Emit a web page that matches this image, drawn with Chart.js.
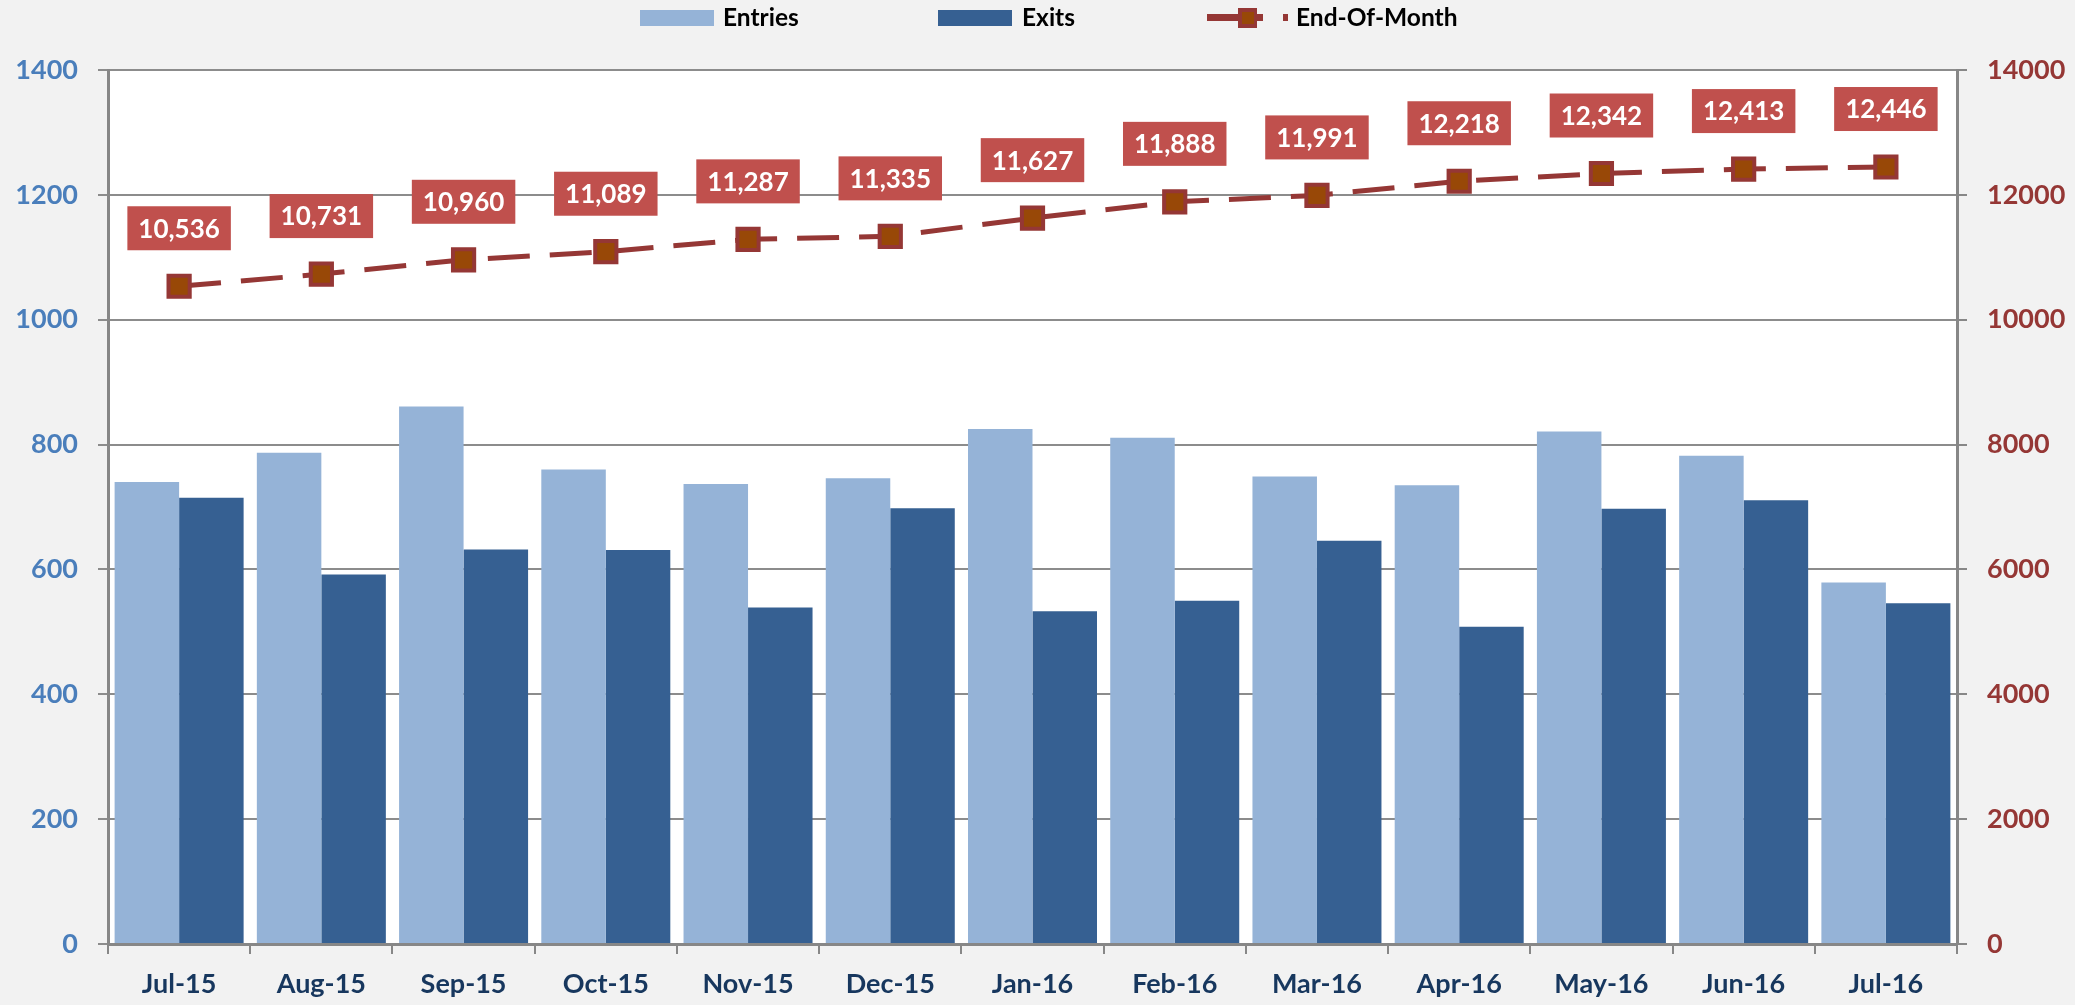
<!DOCTYPE html>
<html><head><meta charset="utf-8">
<script src="https://cdn.jsdelivr.net/npm/chart.js@4.4.1/dist/chart.umd.min.js"></script>
<style>html,body{margin:0;padding:0;background:#f2f2f2;} canvas{display:block;}</style>
</head><body>
<canvas id="c" width="2075" height="1005" style="width:2075px;height:1005px"></canvas>
<script>
const categories = ['Jul-15','Aug-15','Sep-15','Oct-15','Nov-15','Dec-15','Jan-16','Feb-16','Mar-16','Apr-16','May-16','Jun-16','Jul-16'];
const entries = [740, 787, 861, 760, 737, 746, 825, 811, 749, 735, 821, 782, 579];
const exits   = [715, 592, 632, 631, 539, 698, 533, 550, 646, 508, 697, 711, 546];
const endOfMonth = [10536, 10731, 10960, 11089, 11287, 11335, 11627, 11888, 11991, 12218, 12342, 12413, 12446];
const seriesNames = ['Entries', 'Exits', 'End-Of-Month'];

const FONT = 'Lato';
const AXIS_GRAY = '#878787';

const bgPlugin = {
  id: 'bg',
  beforeDraw(chart) {
    const {ctx, chartArea: a} = chart;
    ctx.save();
    ctx.fillStyle = '#f2f2f2';
    ctx.fillRect(0, 0, chart.width, chart.height);
    ctx.fillStyle = '#ffffff';
    ctx.fillRect(a.left, a.top, a.right - a.left, a.bottom - a.top);
    ctx.restore();
  }
};

const legendPlugin = {
  id: 'customLegend',
  afterDraw(chart) {
    const ctx = chart.ctx;
    const ds = chart.data.datasets;
    ctx.save();
    ctx.font = 'bold 24.5px ' + FONT;
    ctx.textBaseline = 'middle';
    ctx.textAlign = 'left';
    const ty = 18;
    // Entries
    ctx.fillStyle = ds[1].backgroundColor;
    ctx.fillRect(640, 10, 74, 16);
    ctx.fillStyle = '#000';
    ctx.fillText(ds[1].label, 723, ty);
    // Exits
    ctx.fillStyle = ds[2].backgroundColor;
    ctx.fillRect(938, 10, 74, 16);
    ctx.fillStyle = '#000';
    ctx.fillText(ds[2].label, 1022, ty);
    // End-Of-Month
    ctx.fillStyle = ds[0].borderColor;
    ctx.fillRect(1207, 14, 56, 7);
    ctx.fillRect(1238, 8, 19, 20);
    ctx.fillStyle = ds[0].pointBackgroundColor;
    ctx.fillRect(1242, 12, 12, 12);
    ctx.fillStyle = ds[0].borderColor;
    ctx.fillRect(1283, 14, 5, 7);
    ctx.fillStyle = '#000';
    ctx.fillText(ds[0].label, 1296, ty);
    ctx.restore();
  }
};

const labelPlugin = {
  id: 'eomLabels',
  afterDatasetsDraw(chart) {
    const ctx = chart.ctx;
    const meta = chart.getDatasetMeta(0);
    const values = chart.data.datasets[0].data;
    ctx.save();
    ctx.font = 'bold 26px ' + FONT;
    ctx.textAlign = 'center';
    ctx.textBaseline = 'middle';
    meta.data.forEach((pt, i) => {
      const txt = values[i].toLocaleString('en-US');
      const w = ctx.measureText(txt).width + 22;
      const h = 44;
      const cx = pt.x, cy = pt.y - 58;
      ctx.fillStyle = '#c0504d';
      ctx.fillRect(cx - w / 2, cy - h / 2, w, h);
      ctx.fillStyle = '#ffffff';
      ctx.fillText(txt, cx, cy + 1);
    });
    ctx.restore();
  }
};

const plainTick = v => String(v);

new Chart(document.getElementById('c'), {
  type: 'bar',
  data: {
    labels: categories,
    datasets: [
      {
        type: 'line',
        label: seriesNames[2],
        data: endOfMonth,
        yAxisID: 'y2',
        order: 0,
        borderColor: '#953735',
        borderWidth: 5,
        borderDash: [42, 20],
        fill: false,
        tension: 0,
        pointStyle: 'rect',
        pointRadius: 15,
        pointBorderWidth: 4,
        pointBackgroundColor: '#984807',
        pointBorderColor: '#953735'
      },
      {
        label: seriesNames[0],
        data: entries,
        yAxisID: 'y',
        order: 1,
        backgroundColor: '#95b3d7',
        categoryPercentage: 0.907,
        barPercentage: 1.0
      },
      {
        label: seriesNames[1],
        data: exits,
        yAxisID: 'y',
        order: 1,
        backgroundColor: '#366092',
        categoryPercentage: 0.907,
        barPercentage: 1.0
      }
    ]
  },
  options: {
    responsive: false,
    animation: false,
    layout: { padding: { top: 70, left: 0, right: 0, bottom: 0 } },
    plugins: {
      legend: { display: false },
      tooltip: { enabled: false }
    },
    scales: {
      x: {
        offset: true,
        grid: { display: true, offset: true, drawOnChartArea: false, drawTicks: true, tickLength: 10, color: AXIS_GRAY, lineWidth: 2 },
        border: { display: true, color: AXIS_GRAY, width: 3 },
        ticks: { color: '#17375e', font: { family: FONT, size: 27, weight: 'bold' }, padding: 14, maxRotation: 0, autoSkip: false },
        afterFit(s) { s.height = 61; }
      },
      y: {
        position: 'left',
        min: 0, max: 1400,
        grid: { color: '#8c8c8c', lineWidth: 2, tickLength: 10, drawTicks: true },
        border: { display: true, color: AXIS_GRAY, width: 3 },
        ticks: { stepSize: 200, color: '#4a7ebb', font: { family: FONT, size: 27, weight: 'bold' }, padding: 20, callback: plainTick },
        afterFit(s) { s.width = 108; }
      },
      y2: {
        position: 'right',
        min: 0, max: 14000,
        grid: { drawOnChartArea: false, color: AXIS_GRAY, lineWidth: 2, tickLength: 10, drawTicks: true },
        border: { display: true, color: AXIS_GRAY, width: 3 },
        ticks: { stepSize: 2000, color: '#953735', font: { family: FONT, size: 27, weight: 'bold' }, padding: 20, callback: plainTick },
        afterFit(s) { s.width = 118; }
      }
    }
  },
  plugins: [bgPlugin, labelPlugin, legendPlugin]
});
</script>
</body></html>
